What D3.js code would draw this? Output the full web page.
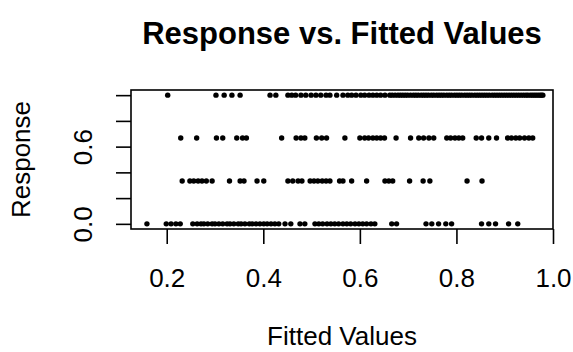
<!DOCTYPE html>
<html>
<head>
<meta charset="utf-8">
<script src="https://cdn.jsdelivr.net/npm/d3@7"></script>
<style>
  html, body { margin: 0; padding: 0; background: #fff; }
  svg { display: block; }
  text { font-family: "Liberation Sans", Arial, Helvetica, sans-serif; fill: #000; }
</style>
</head>
<body>
<svg id="chart" width="573" height="352"></svg>
<script>
// Fitted values grouped by observed response (0, 1/3, 2/3, 1)
const responseLevels = [0, 1 / 3, 2 / 3, 1];

const fittedAt0 = [
  0.159, 0.199, 0.209, 0.219, 0.228,
  0.254, 0.263, 0.271, 0.277, 0.285, 0.294, 0.300, 0.308, 0.316, 0.325,
  0.331, 0.339, 0.348, 0.354, 0.362, 0.371, 0.377, 0.385, 0.393, 0.401,
  0.408, 0.416, 0.424, 0.432, 0.445, 0.457, 0.476, 0.486,
  0.507, 0.515, 0.523, 0.532, 0.540, 0.548, 0.556, 0.565, 0.573, 0.581,
  0.590, 0.598, 0.606, 0.614, 0.623, 0.631,
  0.666, 0.676, 0.737, 0.749, 0.763, 0.778, 0.790,
  0.852, 0.867, 0.881, 0.908, 0.927
];

const fittedAtThird = [
  0.232, 0.248, 0.256, 0.265, 0.273, 0.282, 0.294, 0.330, 0.352, 0.360,
  0.387, 0.401, 0.451, 0.461, 0.472, 0.480, 0.497, 0.505, 0.513, 0.522,
  0.530, 0.538, 0.558, 0.565, 0.583, 0.614, 0.652, 0.660, 0.668,
  0.703, 0.731, 0.745, 0.822, 0.853
];

const fittedAtTwoThirds = [
  0.229, 0.262, 0.303, 0.316, 0.345, 0.357, 0.365, 0.438, 0.468, 0.478,
  0.486, 0.510, 0.521, 0.531, 0.569, 0.600, 0.610, 0.618, 0.627, 0.635,
  0.643, 0.651, 0.675, 0.705, 0.722, 0.732, 0.743, 0.753, 0.780, 0.788,
  0.797, 0.805, 0.813, 0.841, 0.852, 0.867, 0.883, 0.906, 0.914, 0.923,
  0.931, 0.941, 0.950, 0.958
];

const fittedAt1 = [
  0.202, 0.302, 0.319, 0.335, 0.352, 0.414, 0.426,
  0.451, 0.459, 0.467, 0.478, 0.488, 0.499, 0.509, 0.519, 0.530, 0.538,
  0.552, 0.565, 0.575, 0.583, 0.592, 0.602, 0.610, 0.619, 0.627, 0.635,
  0.643, 0.652,
  0.662, 0.667, 0.673, 0.679, 0.684, 0.689, 0.694, 0.699, 0.705, 0.711,
  0.716, 0.721, 0.727, 0.732, 0.737, 0.742, 0.748, 0.753, 0.759, 0.764,
  0.769, 0.774, 0.780, 0.785, 0.790, 0.796, 0.801, 0.806, 0.811, 0.817,
  0.822, 0.827, 0.832, 0.838, 0.843, 0.848, 0.853, 0.858, 0.863, 0.868,
  0.874, 0.879, 0.884, 0.889, 0.894, 0.899, 0.904, 0.909, 0.914, 0.919,
  0.924, 0.929, 0.934, 0.939, 0.944, 0.948, 0.953, 0.957, 0.961, 0.965,
  0.969, 0.973, 0.976, 0.979
];

const fittedByLevel = [fittedAt0, fittedAtThird, fittedAtTwoThirds, fittedAt1];

const xTicks = [0.2, 0.4, 0.6, 0.8, 1.0];
const xTickLabels = ["0.2", "0.4", "0.6", "0.8", "1.0"];
const yTicks = [0.0, 0.2, 0.4, 0.6, 0.8, 1.0];
const yTickLabels = ["0.0", "", "", "0.6", "", ""];

const titleText = "Response vs. Fitted Values";
const xLabel = "Fitted Values";
const yLabel = "Response";

// Layout
const plot = { left: 131, right: 553, top: 90, bottom: 229 };
const fontSize = 26;
const titleSize = 31;

const svg = d3.select("#chart");
svg.append("rect").attr("width", 573).attr("height", 352).attr("fill", "#fff");

const x = d3.scaleLinear().domain([0.126, 1.0]).range([plot.left, plot.right]);
const y = d3.scaleLinear().domain([-0.04, 1.04]).range([plot.bottom, plot.top]);

// Points
const points = [];
fittedByLevel.forEach((arr, i) => arr.forEach(f => points.push({ fitted: f, response: responseLevels[i] })));

svg.append("g")
  .selectAll("circle")
  .data(points)
  .join("circle")
  .attr("cx", d => x(d.fitted))
  .attr("cy", d => y(d.response))
  .attr("r", 2.7)
  .attr("fill", "#000");

// Plot box
svg.append("rect")
  .attr("x", plot.left)
  .attr("y", plot.top)
  .attr("width", plot.right - plot.left)
  .attr("height", plot.bottom - plot.top)
  .attr("fill", "none")
  .attr("stroke", "#000")
  .attr("stroke-width", 1.6);

// X axis
const xAxis = svg.append("g")
  .attr("transform", `translate(0,${plot.bottom})`)
  .call(d3.axisBottom(x).tickValues(xTicks).tickSize(15).tickSizeOuter(0)
    .tickFormat((d, i) => xTickLabels[i]));
xAxis.select(".domain").remove();
xAxis.selectAll(".tick line").attr("stroke", "#000").attr("stroke-width", 1.6);
xAxis.selectAll(".tick text")
  .attr("y", 58).attr("dy", null)
  .attr("font-size", fontSize)
  .attr("font-family", "Liberation Sans, Arial, sans-serif")
  .attr("fill", "#000");

// Y axis
const yAxis = svg.append("g")
  .attr("transform", `translate(${plot.left},0)`)
  .call(d3.axisLeft(y).tickValues(yTicks).tickSize(15).tickSizeOuter(0)
    .tickFormat((d, i) => yTickLabels[i]));
yAxis.select(".domain").remove();
yAxis.selectAll(".tick line").attr("stroke", "#000").attr("stroke-width", 1.6);
yAxis.selectAll(".tick text")
  .attr("x", null).attr("dy", null)
  .attr("transform", "translate(-39,0) rotate(-90)")
  .attr("text-anchor", "middle")
  .attr("font-size", fontSize)
  .attr("font-family", "Liberation Sans, Arial, sans-serif")
  .attr("fill", "#000");

// Titles
const cx = (plot.left + plot.right) / 2;
svg.append("text")
  .attr("x", cx).attr("y", 44)
  .attr("text-anchor", "middle")
  .attr("font-size", titleSize)
  .attr("font-weight", "bold")
  .text(titleText);

svg.append("text")
  .attr("x", cx).attr("y", 345)
  .attr("text-anchor", "middle")
  .attr("font-size", fontSize)
  .text(xLabel);

svg.append("text")
  .attr("transform", `translate(30,${(plot.top + plot.bottom) / 2}) rotate(-90)`)
  .attr("text-anchor", "middle")
  .attr("font-size", fontSize)
  .text(yLabel);
</script>
</body>
</html>
